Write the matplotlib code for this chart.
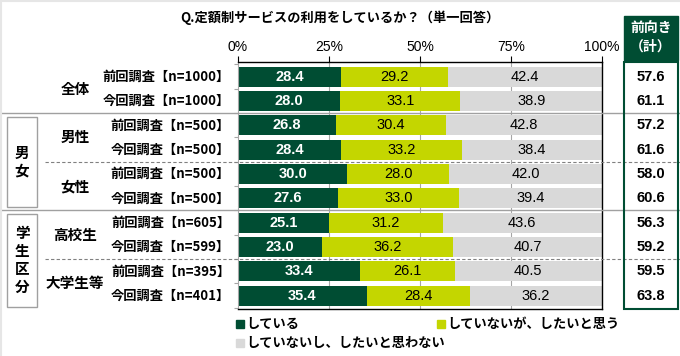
import numpy as np
import matplotlib
matplotlib.use('Agg')
import matplotlib.pyplot as plt
from matplotlib.patches import Rectangle

plt.rcParams['font.family'] = ['Noto Sans CJK JP', 'DejaVu Sans']

# Data
row_labels = ['前回調査【n=1000】', '今回調査【n=1000】',
              '前回調査【n=500】', '今回調査【n=500】',
              '前回調査【n=500】', '今回調査【n=500】',
              '前回調査【n=605】', '今回調査【n=599】',
              '前回調査【n=395】', '今回調査【n=401】']
groups = ['全体', '男性', '女性', '高校生', '大学生等']
sections = ['男\n女', '学\n生\n区\n分']
doing = [28.4, 28.0, 26.8, 28.4, 30.0, 27.6, 25.1, 23.0, 33.4, 35.4]
want = [29.2, 33.1, 30.4, 33.2, 28.0, 33.0, 31.2, 36.2, 26.1, 28.4]
not_want = [42.4, 38.9, 42.8, 38.4, 42.0, 39.4, 43.6, 40.7, 40.5, 36.2]
positive = [57.6, 61.1, 57.2, 61.6, 58.0, 60.6, 56.3, 59.2, 59.5, 63.8]
series_names = ['している', 'していないが、したいと思う', 'していないし、したいと思わない']
ticks = [0, 25, 50, 75, 100]

c_dark = '#004D33'
c_lime = '#C4D600'
c_gray = '#D9D9D9'
num_font = ['Liberation Sans', 'DejaVu Sans']

W, H = 680, 356
fig = plt.figure(figsize=(W / 100, H / 100), dpi=100)

def fx(px):
    return px / W

def fy(py):
    return 1 - py / H

ax = fig.add_axes([fx(238), fy(309), fx(602) - fx(238), fy(62) - fy(309)])

def row_y(v):
    # row position (data units) -> figure fraction
    return fy(62) - (v + 0.6) * (fy(62) - fy(309)) / 10.15

y = np.arange(len(doing))
doing = np.array(doing)
want = np.array(want)
not_want = np.array(not_want)

# grid lines behind the bars
for t in [25, 50, 75]:
    ax.axvline(t, color='#A6A6A6', lw=0.8, zorder=0)

bh = 0.82
ax.barh(y, doing, height=bh, color=c_dark, zorder=2)
ax.barh(y, want, left=doing, height=bh, color=c_lime, zorder=2)
ax.barh(y, not_want, left=doing + want, height=bh, color=c_gray, zorder=2)

for i in range(len(y)):
    ax.text(doing[i] / 2, y[i], f'{doing[i]:.1f}', color='white', ha='center', va='center',
            fontsize=10.5, fontweight='bold', family=num_font, zorder=3)
    ax.text(doing[i] + want[i] / 2, y[i], f'{want[i]:.1f}', color='black', ha='center',
            va='center', fontsize=10.5, family=num_font, zorder=3)
    ax.text(doing[i] + want[i] + not_want[i] / 2, y[i], f'{not_want[i]:.1f}', color='black',
            ha='center', va='center', fontsize=10.5, family=num_font, zorder=3)

ax.set_xlim(0, 100)
ax.set_ylim(9.55, -0.6)
ax.xaxis.tick_top()
ax.set_xticks(ticks)
ax.set_xticklabels([f'{t}%' for t in ticks], fontsize=10, family=num_font)
ax.tick_params(axis='x', length=4, width=0.8, pad=2)
ax.set_yticks(np.arange(-0.5, 9.6, 1.0))
ax.set_yticklabels([])
ax.tick_params(axis='y', length=3, color='#A6A6A6')
ax.spines['left'].set_color('#A6A6A6')
for s in ['top', 'bottom', 'right']:
    ax.spines[s].set_color('black')
    ax.spines[s].set_linewidth(1.0)

# row labels
for i, lab in enumerate(row_labels):
    fig.text(fx(230), row_y(y[i]), lab, ha='right', va='center', fontsize=9.5, fontweight='bold')

# group labels
for g, v in zip(groups, [0.5, 2.5, 4.5, 6.5, 8.5]):
    fig.text(fx(75), row_y(v), g, ha='center', va='center', fontsize=10.5, fontweight='bold')

# section boxes
for s, (a, b) in zip(sections, [(1.65, 5.35), (5.65, 9.45)]):
    fig.patches.append(Rectangle((fx(7), row_y(b)), fx(37) - fx(7), row_y(a) - row_y(b),
                                 transform=fig.transFigure, fill=False, ec='#A0A0A0', lw=1))
    fig.text(fx(22), row_y((a + b) / 2), s, ha='center', va='center', fontsize=10.5,
             fontweight='bold', linespacing=1.15)

# separator lines
for v in [1.5, 5.5]:
    fig.add_artist(plt.Line2D([0, 1], [row_y(v), row_y(v)], color='#A0A0A0', lw=1, zorder=1))
for v in [3.5, 7.5]:
    fig.add_artist(plt.Line2D([fx(45), 1], [row_y(v), row_y(v)], color='#808080', lw=0.8,
                              ls=(0, (3, 2)), zorder=1))

# faint frame at the top and left edges
fig.add_artist(plt.Line2D([0, 1], [fy(1), fy(1)], color='#E6E6E6', lw=1.5))
fig.add_artist(plt.Line2D([fx(1), fx(1)], [0, 1], color='#E6E6E6', lw=1.5))

# title
fig.text(0.5, fy(18), 'Q.定額制サービスの利用をしているか？（単一回答）', ha='center', va='center',
         fontsize=9.5, fontweight='bold')

# positive total table
tx0, tx1 = 624, 678
fig.patches.append(Rectangle((fx(tx0), fy(60)), fx(tx1) - fx(tx0), fy(16) - fy(60),
                             transform=fig.transFigure, color=c_dark, zorder=2))
fig.text(fx((tx0 + tx1) / 2), fy(38), '前向き\n（計）', color='white', ha='center', va='center',
         fontsize=10, fontweight='bold', linespacing=1.3, zorder=3)
fig.patches.append(Rectangle((fx(tx0), fy(309)), fx(tx1) - fx(tx0), fy(62) - fy(309),
                             transform=fig.transFigure, fill=False, ec=c_dark, lw=1.5, zorder=3))
for i, v in enumerate(positive):
    fig.text(fx((tx0 + tx1) / 2), row_y(y[i]), f'{v:.1f}', ha='center', va='center',
             fontsize=10.5, family=num_font, fontweight='bold')

# legend
leg = [(236, 324, c_dark, series_names[0]), (437, 324, c_lime, series_names[1]),
       (236, 343, c_gray, series_names[2])]
for px, py, c, name in leg:
    fig.patches.append(Rectangle((fx(px), fy(py + 4)), fx(8), fy(0) - fy(8),
                                 transform=fig.transFigure, color=c))
    fig.text(fx(px + 10), fy(py), name, ha='left', va='center', fontsize=9.5, fontweight='bold')

fig.savefig('out.png', dpi=100)
